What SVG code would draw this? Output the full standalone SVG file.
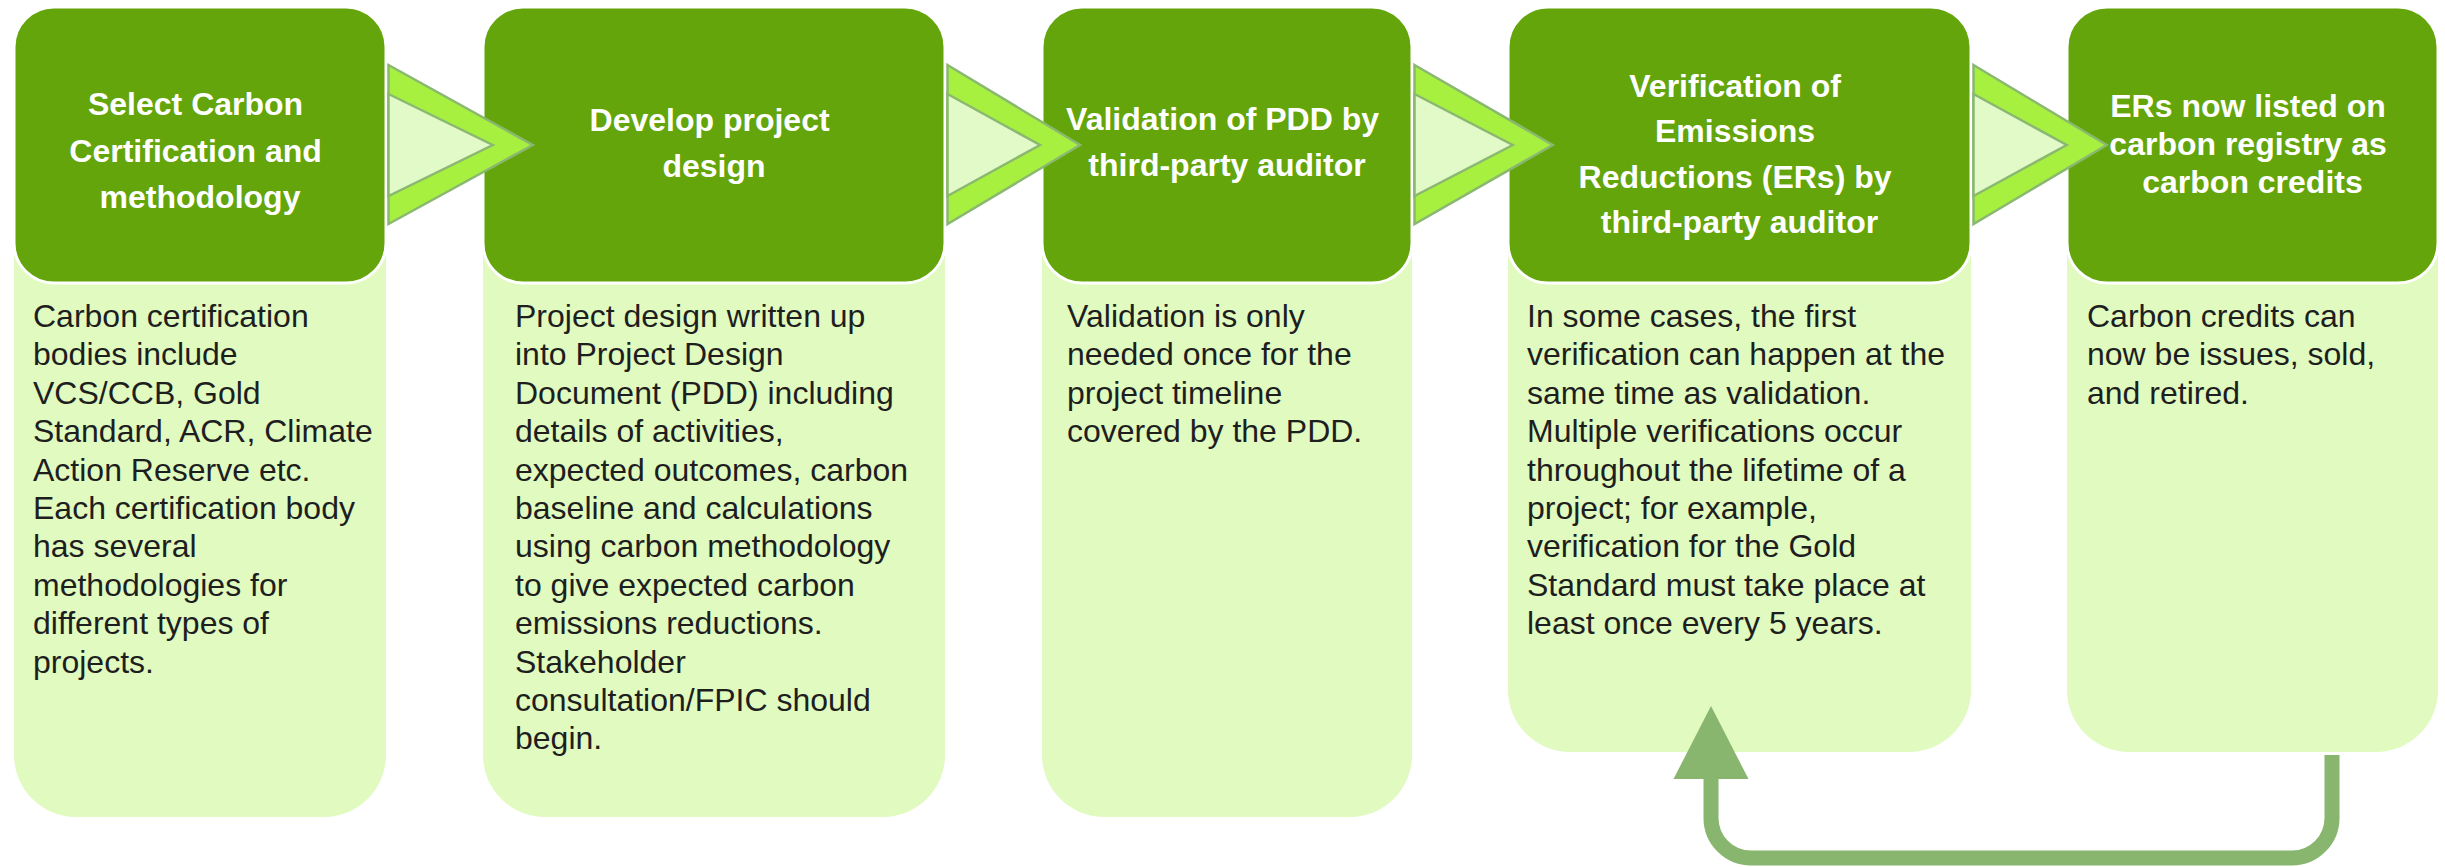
<svg xmlns="http://www.w3.org/2000/svg" width="2445" height="867" viewBox="0 0 2445 867">
  <style>
    .body { fill: #e0fac0; }
    .head { fill: #63a50a; stroke: #ffffff; stroke-width: 3; }
    .title { font-family: "Liberation Sans", Arial, sans-serif; font-weight: bold; font-size: 32px; fill: #ffffff; text-anchor: middle; }
    .desc { font-family: "Liberation Sans", Arial, sans-serif; font-size: 32px; fill: #1e1e1e; }
    .chev-outer { fill: #a8f040; stroke: #8ab870; stroke-width: 2.5; stroke-linejoin: miter; }
    .chev-inner { fill: #e2f9c8; stroke: #8ab870; stroke-width: 2.5; }
    .loop { fill: none; stroke: #88b66e; stroke-width: 15; }
    .loop-head { fill: #88b66e; }
  </style>

  <!-- Step 1 -->
  <g id="step1">
    <rect class="body" x="14" y="100" width="372" height="717" rx="62" ry="62"/>
    <rect class="head" x="14" y="7" width="372" height="276" rx="40" ry="40"/>
    <text class="title" x="200">
      <tspan x="200" y="115">Select Carbon</tspan>
      <tspan x="200" y="161.5">Certification and</tspan>
      <tspan x="200" y="208">methodology</tspan>
    </text>
    <text class="desc" x="33" y="327">
      <tspan x="33" y="327">Carbon certification</tspan>
      <tspan x="33" dy="38.4">bodies include</tspan>
      <tspan x="33" dy="38.4">VCS/CCB, Gold</tspan>
      <tspan x="33" dy="38.4">Standard, ACR, Climate</tspan>
      <tspan x="33" dy="38.4">Action Reserve etc.</tspan>
      <tspan x="33" dy="38.4">Each certification body</tspan>
      <tspan x="33" dy="38.4">has several</tspan>
      <tspan x="33" dy="38.4">methodologies for</tspan>
      <tspan x="33" dy="38.4">different types of</tspan>
      <tspan x="33" dy="38.4">projects.</tspan>
    </text>
  </g>

  <!-- Step 2 -->
  <g id="step2">
    <rect class="body" x="483" y="100" width="462" height="717" rx="62" ry="62"/>
    <rect class="head" x="483" y="7" width="462" height="276" rx="40" ry="40"/>
    <text class="title">
      <tspan x="714" y="131">Develop project</tspan>
      <tspan x="714" y="177">design</tspan>
    </text>
    <text class="desc">
      <tspan x="515" y="327">Project design written up</tspan>
      <tspan x="515" dy="38.4">into Project Design</tspan>
      <tspan x="515" dy="38.4">Document (PDD) including</tspan>
      <tspan x="515" dy="38.4">details of activities,</tspan>
      <tspan x="515" dy="38.4">expected outcomes, carbon</tspan>
      <tspan x="515" dy="38.4">baseline and calculations</tspan>
      <tspan x="515" dy="38.4">using carbon methodology</tspan>
      <tspan x="515" dy="38.4">to give expected carbon</tspan>
      <tspan x="515" dy="38.4">emissions reductions.</tspan>
      <tspan x="515" dy="38.4">Stakeholder</tspan>
      <tspan x="515" dy="38.4">consultation/FPIC should</tspan>
      <tspan x="515" dy="38.4">begin.</tspan>
    </text>
  </g>

  <!-- Step 3 -->
  <g id="step3">
    <rect class="body" x="1042" y="100" width="370" height="717" rx="62" ry="62"/>
    <rect class="head" x="1042" y="7" width="370" height="276" rx="40" ry="40"/>
    <text class="title">
      <tspan x="1227" y="130">Validation of PDD by</tspan>
      <tspan x="1227" y="176">third-party auditor</tspan>
    </text>
    <text class="desc">
      <tspan x="1067" y="327">Validation is only</tspan>
      <tspan x="1067" dy="38.4">needed once for the</tspan>
      <tspan x="1067" dy="38.4">project timeline</tspan>
      <tspan x="1067" dy="38.4">covered by the PDD.</tspan>
    </text>
  </g>

  <!-- Step 4 -->
  <g id="step4">
    <rect class="body" x="1508" y="100" width="463" height="652" rx="62" ry="62"/>
    <rect class="head" x="1508" y="7" width="463" height="276" rx="40" ry="40"/>
    <text class="title">
      <tspan x="1739.5" y="97">Verification of</tspan>
      <tspan x="1739.5" y="142">Emissions</tspan>
      <tspan x="1739.5" y="187.5">Reductions (ERs) by</tspan>
      <tspan x="1739.5" y="233">third-party auditor</tspan>
    </text>
    <text class="desc">
      <tspan x="1527" y="327">In some cases, the first</tspan>
      <tspan x="1527" dy="38.4">verification can happen at the</tspan>
      <tspan x="1527" dy="38.4">same time as validation.</tspan>
      <tspan x="1527" dy="38.4">Multiple verifications occur</tspan>
      <tspan x="1527" dy="38.4">throughout the lifetime of a</tspan>
      <tspan x="1527" dy="38.4">project; for example,</tspan>
      <tspan x="1527" dy="38.4">verification for the Gold</tspan>
      <tspan x="1527" dy="38.4">Standard must take place at</tspan>
      <tspan x="1527" dy="38.4">least once every 5 years.</tspan>
    </text>
  </g>

  <!-- Step 5 -->
  <g id="step5">
    <rect class="body" x="2067" y="100" width="371" height="652" rx="62" ry="62"/>
    <rect class="head" x="2067" y="7" width="371" height="276" rx="40" ry="40"/>
    <text class="title">
      <tspan x="2252.5" y="117">ERs now listed on</tspan>
      <tspan x="2252.5" y="155">carbon registry as</tspan>
      <tspan x="2252.5" y="193">carbon credits</tspan>
    </text>
    <text class="desc">
      <tspan x="2087" y="327">Carbon credits can</tspan>
      <tspan x="2087" dy="38.4">now be issues, sold,</tspan>
      <tspan x="2087" dy="38.4">and retired.</tspan>
    </text>
  </g>

  <!-- Connectors: chevrons between steps and the return loop -->
  <g id="connectors">
    <polygon class="chev-outer" points="388.5,65 532.7,145 388.5,224"/>
    <polygon class="chev-inner" points="388.5,94 492.7,145 388.5,196"/>

    <polygon class="chev-outer" points="947.5,65 1080,145 947.5,224"/>
    <polygon class="chev-inner" points="947.5,94 1040,145 947.5,196"/>

    <polygon class="chev-outer" points="1414.5,65 1552.7,145 1414.5,224"/>
    <polygon class="chev-inner" points="1414.5,94 1512.7,145 1414.5,196"/>

    <polygon class="chev-outer" points="1973.5,65 2106.7,145 1973.5,224"/>
    <polygon class="chev-inner" points="1973.5,94 2066.7,145 1973.5,196"/>

    <path class="loop" d="M 2332 755 V 818 A 40 40 0 0 1 2292 858 H 1751 A 40 40 0 0 1 1711 818 V 775"/>
    <polygon class="loop-head" points="1711,706 1748.5,779 1673.5,779"/>
  </g>
</svg>
